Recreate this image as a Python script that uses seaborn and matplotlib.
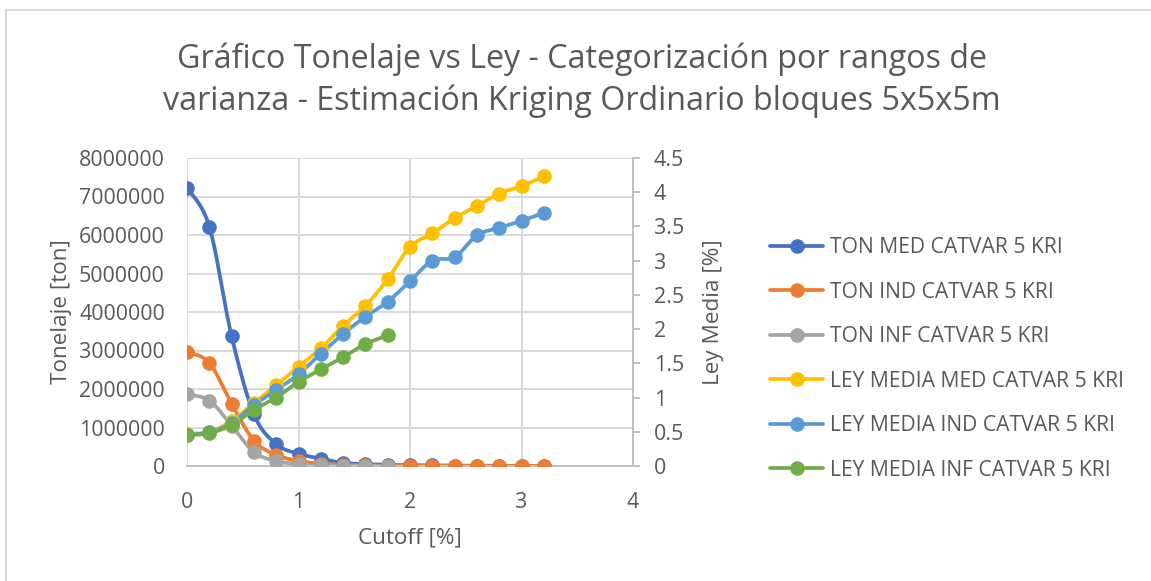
import numpy as np
import matplotlib
matplotlib.use("Agg")
import matplotlib.pyplot as plt
from matplotlib.lines import Line2D
from matplotlib.patches import Rectangle
import seaborn as sns

# ---- data -------------------------------------------------------------
cutoff = [0.0, 0.2, 0.4, 0.6, 0.8, 1.0, 1.2, 1.4, 1.6, 1.8,
          2.0, 2.2, 2.4, 2.6, 2.8, 3.0, 3.2]

ton_med = [7220000, 6220000, 3370000, 1350000, 570000, 320000, 190000, 80000,
           50000, 30000, 20000, 15000, 10000, 8000, 5000, 3000, 2000]
ton_ind = [2960000, 2680000, 1620000, 660000, 290000, 130000, 60000, 30000,
           15000, 8000, 5000, 3000, 2000, 1000, 500, 300, 100]
ton_inf = [1860000, 1700000, 1050000, 360000, 130000, 50000, 20000, 10000,
           5000, 2000]

ley_med = [0.47, 0.50, 0.66, 0.92, 1.18, 1.45, 1.72, 2.05, 2.34, 2.73,
           3.20, 3.40, 3.62, 3.80, 3.98, 4.09, 4.23]
ley_ind = [0.46, 0.49, 0.63, 0.89, 1.11, 1.34, 1.64, 1.93, 2.18, 2.40,
           2.70, 3.00, 3.05, 3.37, 3.48, 3.58, 3.70]
ley_inf = [0.45, 0.48, 0.60, 0.82, 1.00, 1.23, 1.41, 1.59, 1.78, 1.91]

labels = ["TON MED CATVAR 5 KRI", "TON IND CATVAR 5 KRI", "TON INF CATVAR 5 KRI",
          "LEY MEDIA MED CATVAR 5 KRI", "LEY MEDIA IND CATVAR 5 KRI",
          "LEY MEDIA INF CATVAR 5 KRI"]
colors = ["#4472C4", "#ED7D31", "#A5A5A5", "#FFC000", "#5B9BD5", "#70AD47"]

left_ticks = [0, 1000000, 2000000, 3000000, 4000000, 5000000, 6000000, 7000000, 8000000]
right_ticks = [0, 0.5, 1, 1.5, 2, 2.5, 3, 3.5, 4, 4.5]
x_ticks = [0, 1, 2, 3, 4]

title = ("Gráfico Tonelaje vs Ley - Categorización por rangos de\n"
         "varianza - Estimación Kriging Ordinario bloques 5x5x5m")

# ---- style ------------------------------------------------------------
sns.set_theme(style="white")
plt.rcParams["font.family"] = ["Open Sans", "DejaVu Sans"]
TXT = "#595959"
GRID = "#D9D9D9"
AXL = "#BFBFBF"
FS = 15.4

W, H = 1151, 581
fig = plt.figure(figsize=(W / 100, H / 100), dpi=100)


def fx(px):
    return px / W


def fy(py):
    return 1 - py / H


def smooth(x, y, n=24):
    """Bezier smoothing through every point (same scheme as office charts)."""
    x = np.asarray(x, float)
    y = np.asarray(y, float)
    P = np.column_stack([x, y])
    m = len(P)
    out = [P[:1]]
    t = np.linspace(0, 1, n + 1)[1:, None]
    for i in range(m - 1):
        p0 = P[i - 1] if i > 0 else P[i]
        p1, p2 = P[i], P[i + 1]
        p3 = P[i + 2] if i + 2 < m else P[i + 1]
        c1 = p1 + (p2 - p0) / 6.0
        c2 = p2 - (p3 - p1) / 6.0
        seg = ((1 - t) ** 3) * p1 + 3 * ((1 - t) ** 2) * t * c1 \
            + 3 * (1 - t) * t ** 2 * c2 + t ** 3 * p2
        out.append(seg)
    S = np.vstack(out)
    return S[:, 0], S[:, 1]


ax = fig.add_axes([fx(187), fy(466), fx(633 - 187), (466 - 158) / H])
ax2 = ax.twinx()

LW = 2.7
MS = 10.5


def draw(axis, xs, ys, color):
    sx, sy = smooth(xs, ys)
    sns.lineplot(x=sx, y=sy, ax=axis, color=color, linewidth=LW, sort=False,
                 estimator=None, legend=False, zorder=2)
    axis.plot(xs, ys, linestyle="none", marker="o", markersize=MS,
              color=color, markeredgewidth=0, zorder=3)


draw(ax, cutoff, ton_med, colors[0])
draw(ax, cutoff, ton_ind, colors[1])
draw(ax, cutoff[:len(ton_inf)], ton_inf, colors[2])
draw(ax2, cutoff, ley_med, colors[3])
draw(ax2, cutoff, ley_ind, colors[4])
draw(ax2, cutoff[:len(ley_inf)], ley_inf, colors[5])

# primary axis
ax.set_xlim(0, 4)
ax.set_ylim(0, 8000000)
ax.set_xticks(x_ticks)
ax.set_xticklabels([str(v) for v in x_ticks])
ax.set_yticks(left_ticks)
ax.set_yticklabels([str(v) for v in left_ticks])
ax.grid(True, color=GRID, linewidth=1.4)
ax.set_axisbelow(True)
ax.tick_params(axis="both", length=0, labelsize=FS, labelcolor=TXT)
ax.tick_params(axis="y", pad=16)
ax.tick_params(axis="x", pad=19)
for s in ["top", "left", "right"]:
    ax.spines[s].set_visible(False)
ax.spines["bottom"].set_color(AXL)
ax.spines["bottom"].set_linewidth(1.4)

# secondary axis
ax2.set_ylim(0, 4.5)
ax2.set_yticks(right_ticks)
ax2.set_yticklabels([f"{v:g}" for v in right_ticks])
ax2.grid(False)
for s in ["top", "left", "bottom"]:
    ax2.spines[s].set_visible(False)
ax2.spines["right"].set_color(AXL)
ax2.spines["right"].set_linewidth(1.4)
ax2.tick_params(axis="y", length=5, width=1.4, color=AXL, direction="out",
                labelsize=FS, labelcolor=TXT, pad=10)
ax.set_zorder(1)
ax2.set_zorder(2)
ax2.patch.set_visible(False)

# titles and axis labels
fig.text(fx(582), fy(80), title, ha="center", va="center", fontsize=23.2,
         color=TXT, linespacing=1.32)
fig.text(fx(62), fy(312), "Tonelaje [ton]", rotation=90, ha="center",
         va="center", fontsize=16.2, color=TXT)
fig.text(fx(713), fy(312), "Ley Media [%]", rotation=90, ha="center",
         va="center", fontsize=16.2, color=TXT)
fig.text(fx(410), fy(538), "Cutoff [%]", ha="center", va="center",
         fontsize=16.2, color=TXT)

# legend
handles = [Line2D([0], [0], color=c, linewidth=LW, marker="o", markersize=MS,
                  markeredgewidth=0) for c in colors]
leg = fig.legend(handles, labels, loc="upper left",
                 bbox_to_anchor=(fx(762), fy(229)), frameon=False,
                 fontsize=15.2, labelcolor=TXT, handlelength=2.5,
                 handletextpad=0.3, labelspacing=1.11, borderaxespad=0)

# chart frame
fig.add_artist(Rectangle((fx(6), fy(H + 20)), fx(W + 20), (H + 10) / H,
                         transform=fig.transFigure, fill=False,
                         edgecolor=GRID, linewidth=1.5))

fig.savefig("out.png", dpi=100)
